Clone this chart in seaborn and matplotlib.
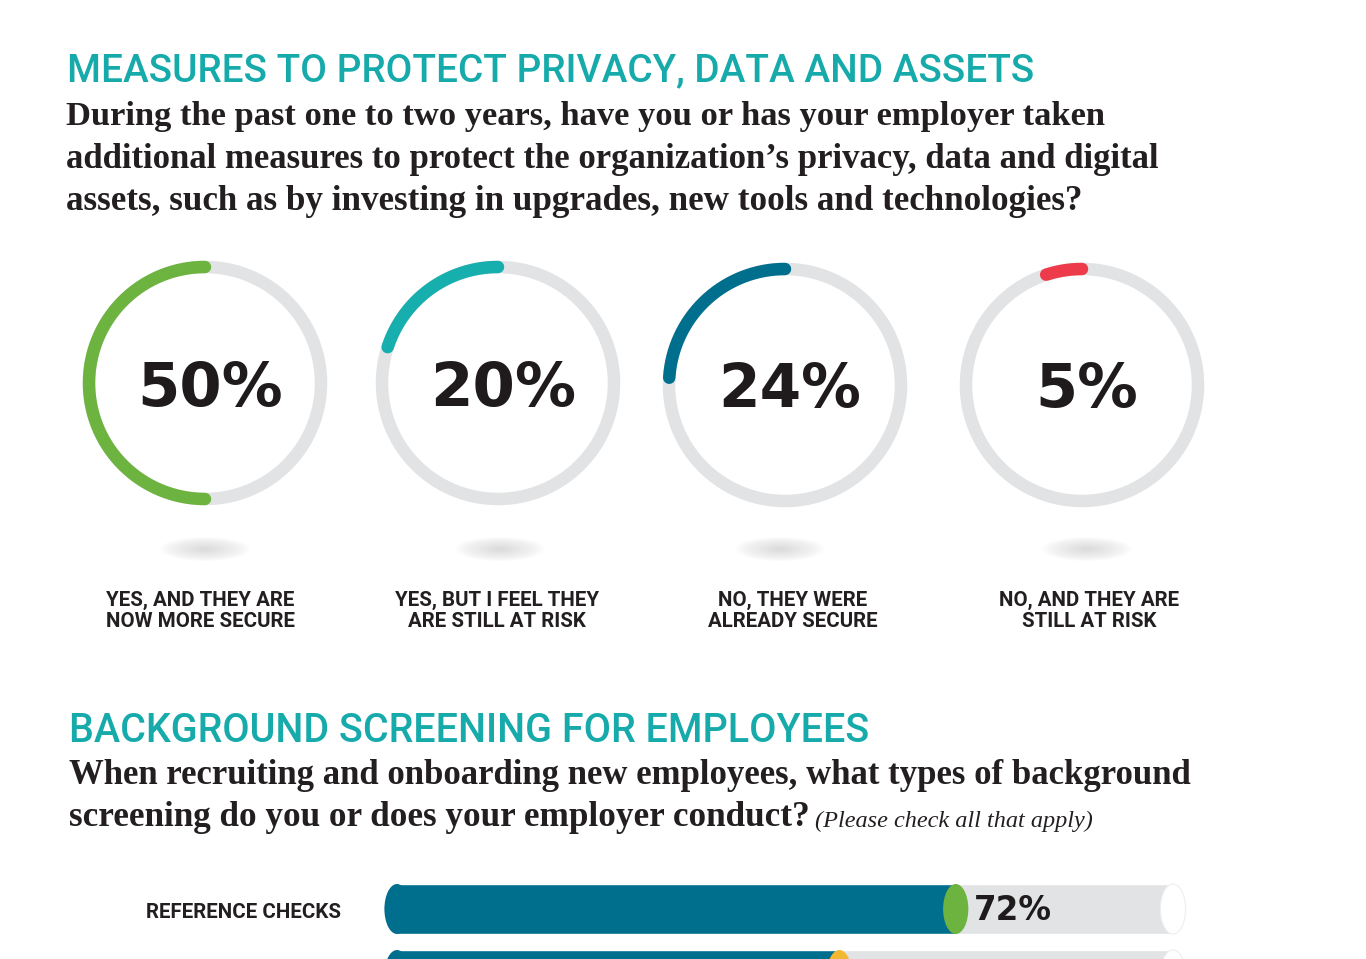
import numpy as np
import pandas as pd
import matplotlib
matplotlib.use("Agg")
import matplotlib.pyplot as plt
from matplotlib.patches import Ellipse
import seaborn as sns

# ---------------- data ----------------
ring_values = [50, 20, 24, 5]
ring_labels = ["50%", "20%", "24%", "5%"]
ring_captions = [
    "YES, AND THEY ARE\nNOW MORE SECURE",
    "YES, BUT I FEEL THEY\nARE STILL AT RISK",
    "NO, THEY WERE\nALREADY SECURE",
    "NO, AND THEY ARE\nSTILL AT RISK",
]
ring_colors = ["#6db33f", "#17aeae", "#006f8e", "#ee3b4b"]

bar_categories = ["REFERENCE CHECKS", ""]
bar_values = [72, 57]
bar_cap_colors = ["#6db33f", "#f2b834"]

title1 = "MEASURES TO PROTECT PRIVACY, DATA AND ASSETS"
sub1 = [
    "During the past one to two years, have you or has your employer taken",
    "additional measures to protect the organization\u2019s privacy, data and digital",
    "assets, such as by investing in upgrades, new tools and technologies?",
]
title2 = "BACKGROUND SCREENING FOR EMPLOYEES"
sub2 = [
    "When recruiting and onboarding new employees, what types of background",
    "screening do you or does your employer conduct?",
]
sub2_note = "(Please check all that apply)"

# ---------------- style ----------------
sns.set_theme(style="white")
plt.rcParams["font.family"] = ["DejaVu Sans"]

W, H = 1366, 959
TEAL = "#17aaab"
INK = "#231f20"
TRACK = "#e2e3e5"
BLUE = "#006f8e"
SERIF = "Liberation Serif"

fig = plt.figure(figsize=(W / 100, H / 100), dpi=100)
fig.patch.set_facecolor("white")
renderer = fig.canvas.get_renderer()


def fx(x):
    return x / W


def fy(y):
    return 1 - y / H


def fit_text(x, y, s, target_w, size0=20, **kw):
    t = fig.text(fx(x), fy(y), s, fontsize=size0, **kw)
    w = t.get_window_extent(renderer).width
    t.set_fontsize(size0 * target_w / w)
    return t


# titles
fit_text(67, 71, title1, 966, color=TEAL, family="Roboto", weight="medium",
         va="center")
sub_widths1 = [1037, 1096, 1016]
for i, (s, w) in enumerate(zip(sub1, sub_widths1)):
    fit_text(66, 116 + 43 * i, s, w, color=INK, family=SERIF,
             weight="bold", va="center")

fit_text(69, 731, title2, 798, color=TEAL, family="Roboto", weight="medium",
         va="center")
fit_text(69, 775, sub2[0], 1123, color=INK, family=SERIF,
         weight="bold", va="center")
fit_text(69, 818, sub2[1], 739, color=INK, family=SERIF,
         weight="bold", va="center")
fit_text(815, 821, sub2_note, 278, color=INK, family=SERIF,
         style="italic", va="center")

# ---------------- rings ----------------
ring_cx = [205, 498, 785, 1082]
ring_cy = [383, 383, 385, 385]
R = 116  # centre-line radius, px
half = R * 1.12
theta_full = np.linspace(0, 2 * np.pi, 400)

# background axes for soft shadows
bg = fig.add_axes([0, 0, 1, 1], zorder=-1)
bg.set_xlim(0, W)
bg.set_ylim(H, 0)
bg.axis("off")
shadow_dx = [0, 2, -5, 5]
for cx, dx in zip(ring_cx, shadow_dx):
    for k in range(16):
        f = 1 - k / 16
        bg.add_patch(Ellipse((cx + dx, 549), 90 * f, 24 * f,
                             color="#a0a0a0", alpha=0.022, lw=0))

pct_widths = [146, 146, 143, 103]
for i, (v, lab, col) in enumerate(zip(ring_values, ring_labels, ring_colors)):
    cx, cy = ring_cx[i], ring_cy[i]
    ax = fig.add_axes([fx(cx - half), fy(cy + half), 2 * half / W, 2 * half / H],
                      projection="polar")
    ax.set_theta_zero_location("N")
    ax.set_theta_direction(1)
    ax.plot(theta_full, np.ones_like(theta_full), color=TRACK, lw=9,
            solid_capstyle="butt")
    th = np.linspace(0, 2 * np.pi * v / 100, 200)
    ax.plot(th, np.ones_like(th), color=col, lw=9, solid_capstyle="round")
    ax.set_ylim(0, 1.12)
    ax.axis("off")
    ax.patch.set_alpha(0)
    fit_text(cx + 5, cy + 6, lab, pct_widths[i], color="#1f1b1c",
             family="DejaVu Sans", weight="bold", ha="center", va="center")

# caption font size: fit first caption line to its reference width
probe = fit_text(0, 0, ring_captions[0].split("\n")[0], 188, family="Roboto",
                 weight="bold")
cap_size = probe.get_fontsize()
probe.remove()

cap_cx = [200, 497, 793, 1089]
for i, cap in enumerate(ring_captions):
    fig.text(fx(cap_cx[i]), fy(611), cap, ha="center", va="center",
             family="Roboto", weight="bold", color=INK, fontsize=cap_size,
             linespacing=1.12)

# ---------------- bars ----------------
px0, px100 = 397, 1173
row_c0, row_step = 909, 66
ax_top = row_c0 - row_step / 2
ax_bot = row_c0 + row_step * 1.5
bax = fig.add_axes([fx(px0), fy(ax_bot), (px100 - px0) / W, (ax_bot - ax_top) / H])
df = pd.DataFrame({"category": bar_categories, "value": bar_values,
                   "full": [100] * len(bar_values)})
bar_h = 50 / row_step
sns.barplot(data=df, y="category", x="full", orient="h", color=TRACK,
            width=bar_h, ax=bax, saturation=1)
sns.barplot(data=df, y="category", x="value", orient="h", color=BLUE,
            width=bar_h, ax=bax, saturation=1)
cap_w = 24 / (px100 - px0) * 100 * 1.05
for i, (v, cc) in enumerate(zip(bar_values, bar_cap_colors)):
    bax.add_patch(Ellipse((0, i), cap_w, bar_h, color=BLUE, lw=0, zorder=3,
                          clip_on=False))
    bax.add_patch(Ellipse((100, i), cap_w, bar_h, facecolor="white",
                          edgecolor="#eeeeee", lw=0.8, zorder=3, clip_on=False))
    bax.add_patch(Ellipse((v, i), cap_w, bar_h, color=cc, lw=0, zorder=4,
                          clip_on=False))
    if i == 0:
        bax.text(v + 2.3, i + 0.03, f"{v}%", va="center", ha="left",
                 family="DejaVu Sans", weight="bold", color="#1f1b1c",
                 fontsize=23.5, zorder=5)
    if bar_categories[i]:
        fig.text(fx(146), fy(row_c0 + row_step * i + 3), bar_categories[i],
                 va="center", ha="left", family="Roboto", weight="bold",
                 color=INK, fontsize=cap_size)
bax.set_xlim(0, 100)
bax.set_ylim(1.5, -0.5)
bax.axis("off")

fig.savefig("out.png", dpi=100, facecolor="white")
